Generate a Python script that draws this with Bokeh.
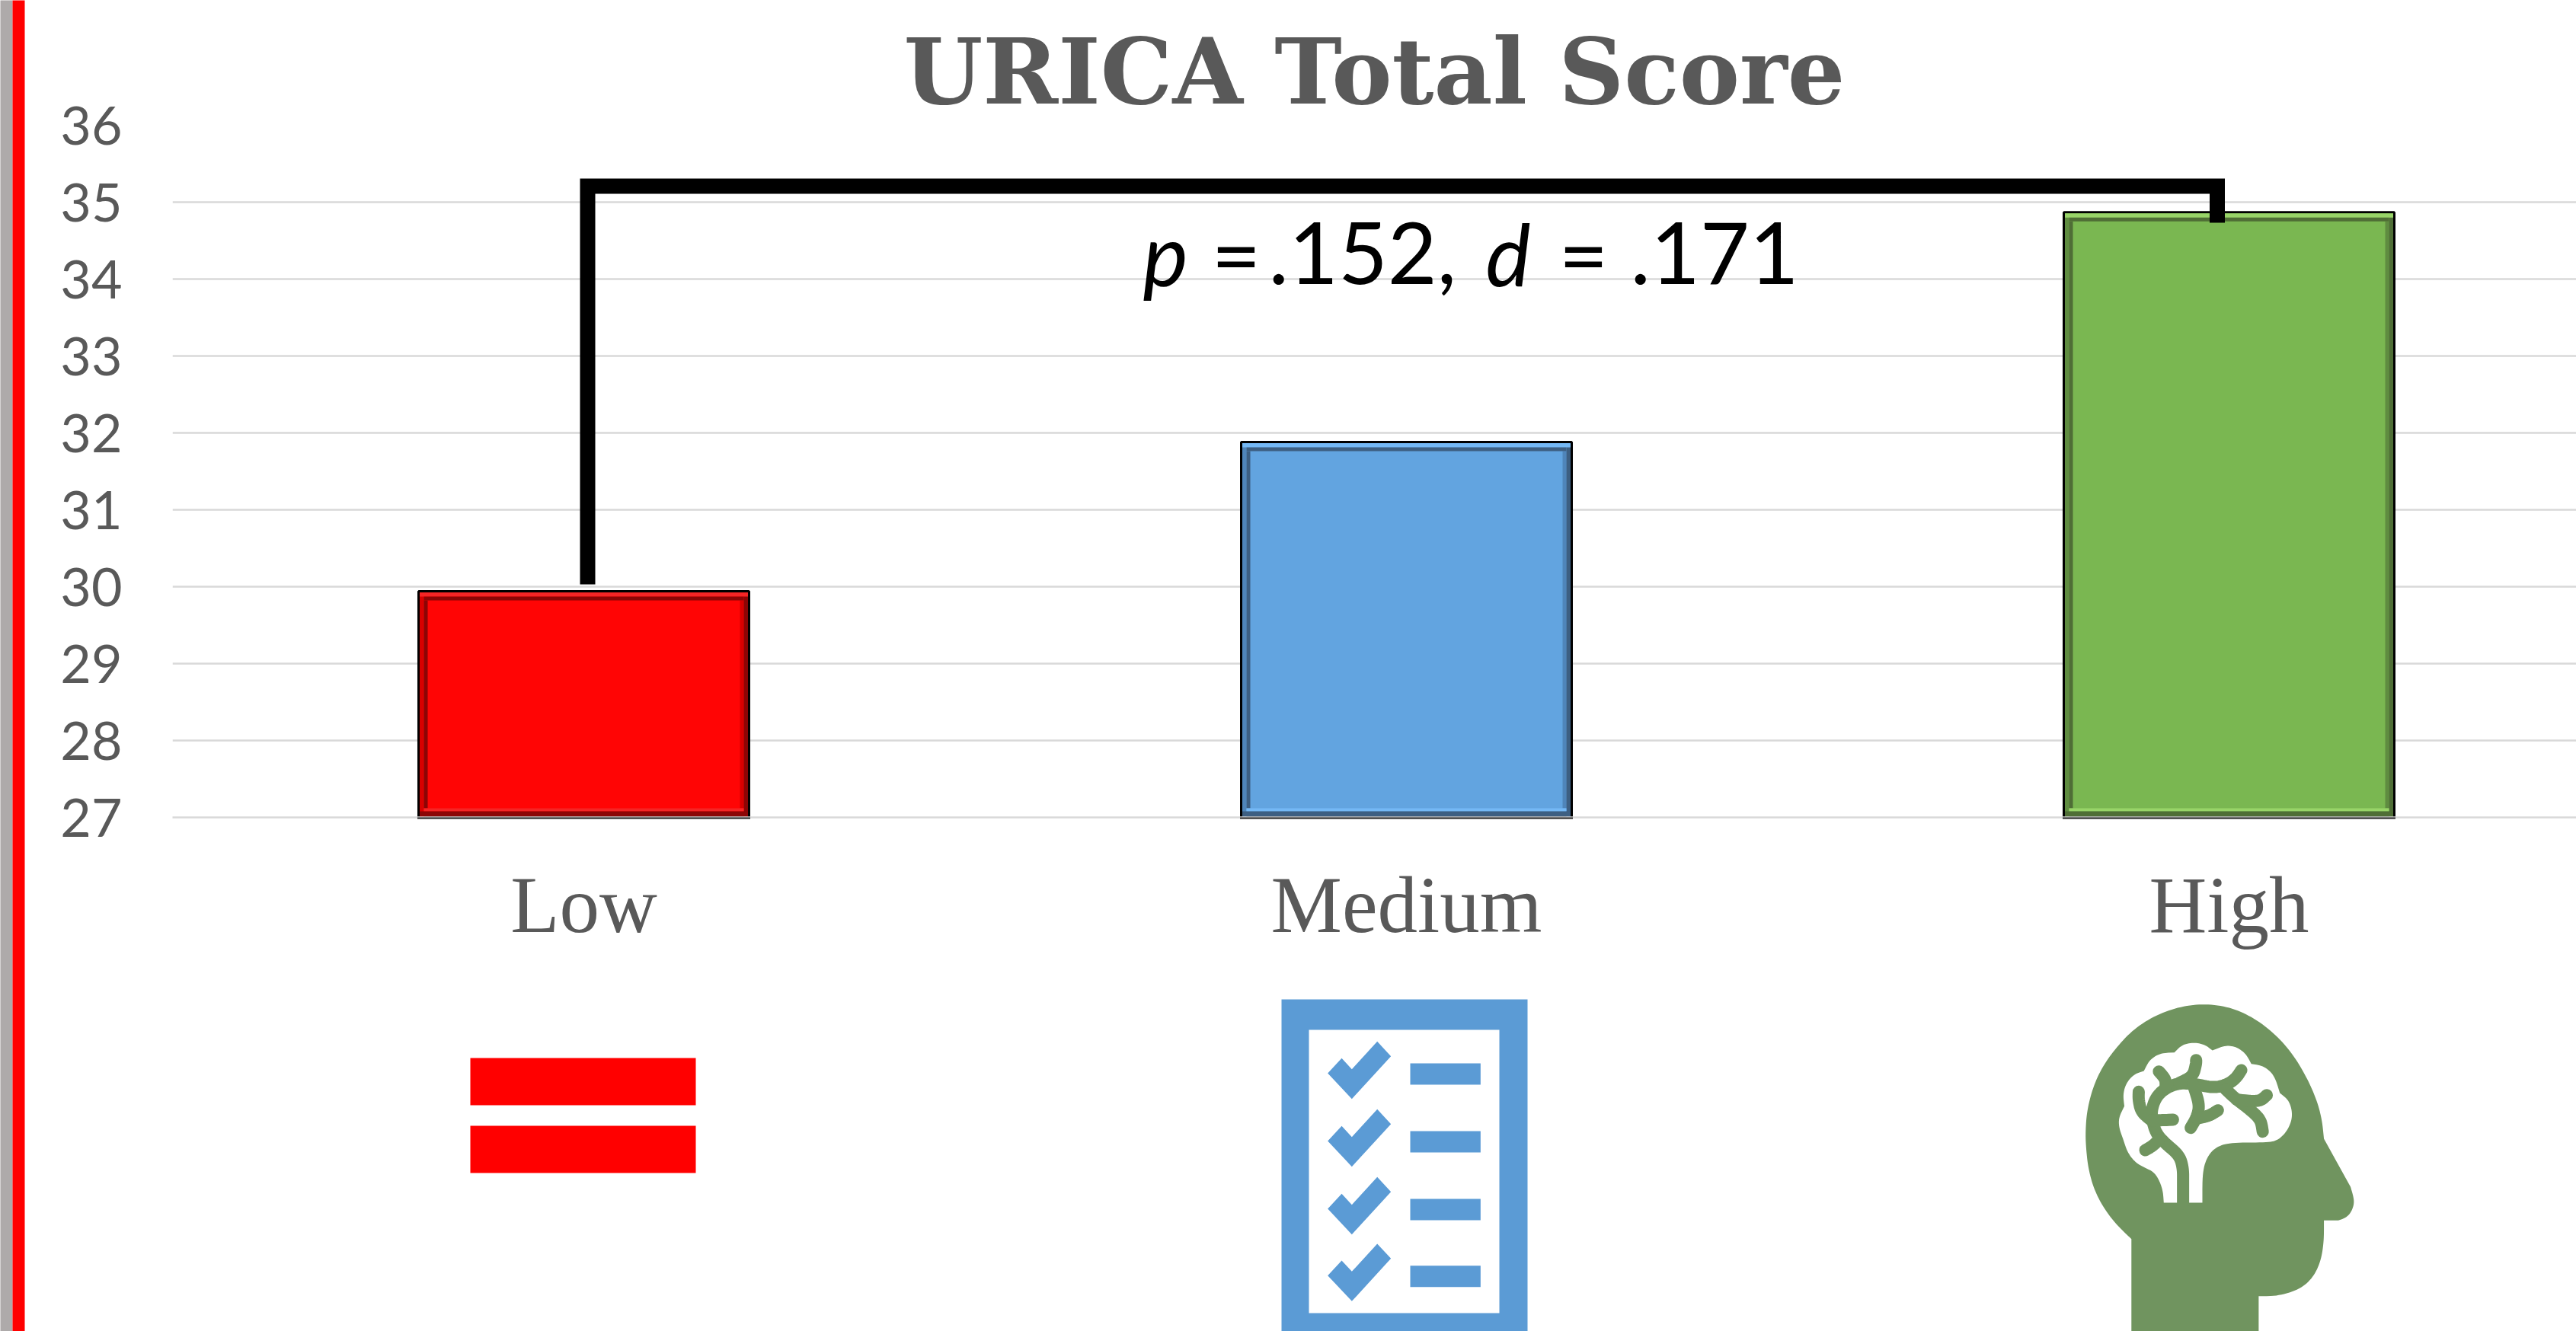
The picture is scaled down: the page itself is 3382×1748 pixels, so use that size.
from bokeh.plotting import figure
from bokeh.models import Range1d, FixedTicker, Title
from bokeh.core.properties import value
from bokeh.embed import file_html
from bokeh.resources import INLINE

# ---- data
categories = ["Low", "Medium", "High"]
scores = [29.94, 31.88, 34.87]
y_ticks = [27, 28, 29, 30, 31, 32, 33, 34, 35, 36]
title_text = "URICA Total Score"

# ---- bar styling: fill, light bevel, dark bevel, mid bevel
bar_fill = ["#FF0505", "#62A4E0", "#7AB751"]
bar_light = ["#F52525", "#74B8F5", "#98D468"]
bar_dark = ["#8C0505", "#3D5F82", "#4F6E36"]
bar_mid = ["#D80000", "#4F85BA", "#5F8C40"]

GREY = "#595959"
GRID = "#D9D9D9"

W, H = 3382, 1748
LEFT, TOP, BOTTOM = 226, 164, 1073      # pixels of the plot frame
PX_PER_CAT = 1080
BAR_W = 434 / 1080

p = figure(width=W, height=H, output_backend="svg", toolbar_location=None,
           x_range=Range1d(0, (W - LEFT) / PX_PER_CAT),
           y_range=Range1d(27, 36),
           min_border_left=LEFT, min_border_right=0,
           min_border_top=TOP, min_border_bottom=H - BOTTOM,
           outline_line_color=None, background_fill_color="white", border_fill_color="white")
# second pair of ranges in pixels, for the decorations
p.extra_x_ranges["px"] = Range1d(LEFT, W)
p.extra_y_ranges["px"] = Range1d(BOTTOM, TOP)
PX = dict(x_range_name="px", y_range_name="px")

# ---- title
p.title = Title(text=title_text, align="center", text_font="DejaVu Serif", text_font_style="bold",
                text_font_size="119px", text_color=GREY, text_line_height=0.9, standoff=2, offset=4)

# ---- axes
p.xgrid.visible = False
p.ygrid.grid_line_color = GRID
p.ygrid.grid_line_width = 2.5
p.ygrid.ticker = FixedTicker(ticks=y_ticks)
ax = p.yaxis[0]
ax.ticker = FixedTicker(ticks=y_ticks)
ax.axis_line_color = None
ax.major_tick_line_color = None
ax.minor_tick_line_color = None
ax.major_label_text_font = "Lato"
ax.major_label_text_font_size = "70px"
ax.major_label_text_color = GREY
ax.major_label_standoff = 60
bx = p.xaxis[0]
bx.ticker = FixedTicker(ticks=[0.5, 1.5, 2.5])
bx.major_label_overrides = {0.5: categories[0], 1.5: categories[1], 2.5: categories[2]}
bx.axis_line_color = GRID
bx.axis_line_width = 2.5
bx.major_tick_line_color = None
bx.minor_tick_line_color = None
bx.major_label_text_font = "Liberation Serif"
bx.major_label_text_font_size = "105px"
bx.major_label_text_color = GREY
bx.major_label_standoff = 50

# ---- bars
centers = [i + 0.5 for i in range(len(categories))]
p.vbar(x=centers, top=scores, bottom=27, width=BAR_W, fill_color=bar_fill,
       line_color="#000000", line_width=3)

# bevel, in pixels, derived from each bar's value
for c, v, light, dark, mid in zip(centers, scores, bar_light, bar_dark, bar_mid):
    xc = LEFT + c * PX_PER_CAT
    half = BAR_W * PX_PER_CAT / 2
    x0, x1 = xc - half, xc + half
    y0 = BOTTOM - (v - 27) * (BOTTOM - TOP) / 9
    y1 = BOTTOM
    bands = [
        (x0 + 1.5, x0 + 7, y0 + 1.5, y1, mid),
        (x0 + 7, x0 + 12, y0 + 12, y1 - 12, dark),
        (x1 - 12, x1 - 7, y0 + 12, y1 - 12, mid),
        (x1 - 7, x1 - 1.5, y0 + 1.5, y1, dark),
        (x0 + 1.5, x1 - 1.5, y0 + 1.5, y0 + 7, light),
        (x0 + 7, x1 - 7, y0 + 7, y0 + 12, dark),
        (x0 + 7, x1 - 7, y1 - 12, y1 - 8, light),
        (x0 + 1.5, x1 - 1.5, y1 - 8, y1 - 1, dark),
    ]
    for l, r, t, b, col in bands:
        p.quad(left=l, right=r, top=t, bottom=b, fill_color=col, line_color=None, **PX)
    p.quad(left=x0 - 1.5, right=x1 + 1.5, top=y1, bottom=y1 + 2, fill_color="#222222", line_color=None,
           level="overlay", **PX)

# ---- significance bracket
p.line([771, 771, 2910.5, 2910.5], [767, 244, 244, 292], line_color="black", line_width=20,
       line_join="miter", line_cap="butt", level="overlay", **PX)

# ---- annotation
note_pieces = [("p", 1500, "italic"), ("=", 1590, "normal"), (".152,", 1665, "normal"),
               ("d", 1950, "italic"), ("=", 2046, "normal"), (".171", 2140, "normal")]
for txt, xp, style in note_pieces:
    p.text(x=[xp], y=[332], text=[txt], text_font=value("Lato"), text_font_size="112px",
           text_font_style=style, text_color="black", text_baseline="alphabetic",
           text_align="left", level="overlay", **PX)

# ---- side stripes
p.quad(left=[0, 16], right=[16, 32], top=[0, 0], bottom=[H, H],
       fill_color=["#AEAAAA", "#FF0000"], line_color=None, level="overlay", **PX)

# ---- icon: equals sign
p.quad(left=[617, 617], right=[913, 913], top=[1389, 1478], bottom=[1451, 1540],
       fill_color="#FF0000", line_color=None, level="overlay", **PX)

# ---- icon: checklist
BLUE = "#5B9BD5"
p.quad(left=[1682], right=[2005], top=[1312], bottom=[H], fill_color=BLUE, line_color=None,
       level="overlay", **PX)
p.quad(left=[1718], right=[1968], top=[1352], bottom=[1724], fill_color="white", line_color=None,
       level="overlay", **PX)
check_x = [278, 333, 373, 473, 527, 373]
check_y = [357, 298, 341, 232, 290, 458]
for row in [0, 267, 534, 797]:
    p.patch([1650 + a / 3 for a in check_x], [1290 + (b + row) / 3 for b in check_y],
            fill_color=BLUE, line_color=None, level="overlay", **PX)
    p.quad(left=[1650 + 603 / 3], right=[1650 + 880 / 3], top=[1290 + (318 + row) / 3],
           bottom=[1290 + (402 + row) / 3], fill_color=BLUE, line_color=None, level="overlay", **PX)

# ---- icon: head with brain
def hx(a):
    return [2650 + v * 0.357 for v in a]

def hy(a):
    return [1280 + v / 3 for v in a]

def rounded(xs, ys, keep=(), closed=True, rounds=3):
    """Corner cutting of an outline; the points listed in keep stay sharp."""
    pts = [(x, y, (x, y) in keep) for x, y in zip(xs, ys)]
    if not closed:
        pts[0] = (pts[0][0], pts[0][1], True)
        pts[-1] = (pts[-1][0], pts[-1][1], True)
    for _ in range(rounds):
        out = []
        n = len(pts)
        for i in range(n if closed else n - 1):
            a, b = pts[i], pts[(i + 1) % n]
            if a[2]:
                out.append(a)
            else:
                out.append((0.75 * a[0] + 0.25 * b[0], 0.75 * a[1] + 0.25 * b[1], False))
            if not b[2]:
                out.append((0.25 * a[0] + 0.75 * b[0], 0.25 * a[1] + 0.75 * b[1], False))
        if not closed:
            out.append(pts[-1])
        pts = out
    return [q[0] for q in pts], [q[1] for q in pts]

head_x = [414, 414, 360, 310, 275, 255, 247, 245, 250, 270, 305, 355, 420, 500, 590, 680, 770, 850,
          930, 1000, 1055, 1095, 1115, 1122, 1220, 1235, 1225, 1205, 1175, 1122, 1122, 1110, 1080,
          1030, 950, 882, 882]
head_y = [1404, 1040, 985, 915, 840, 760, 680, 620, 540, 450, 365, 290, 215, 160, 125, 113, 125, 160,
          220, 300, 395, 490, 570, 645, 835, 890, 930, 955, 967, 967, 1050, 1130, 1195, 1240, 1265,
          1265, 1404]
head_keep = {(414, 1404), (414, 1040), (1122, 645), (1220, 835), (1175, 967), (1122, 967),
             (882, 1265), (882, 1404)}
HEAD = "#70945F"
sx, sy = rounded(head_x, head_y, head_keep)
p.patch(hx(sx), hy(sy), fill_color=HEAD, line_color=None, level="overlay", **PX)

brain_x = [533, 530, 515, 495, 465, 430, 400, 383, 368, 368, 388, 383, 395, 425, 460, 480, 520, 572,
           600, 645, 685, 712, 760, 800, 835, 855, 900, 940, 960, 995, 1008, 990, 955, 915, 780, 730,
           695, 675, 675]
brain_y = [897, 850, 805, 775, 760, 740, 700, 645, 600, 560, 517, 470, 425, 390, 378, 335, 308, 305,
           275, 265, 275, 297, 277, 283, 310, 350, 358, 395, 465, 495, 555, 610, 650, 660, 660, 675,
           710, 775, 897]
brain_keep = {(533, 897), (675, 897), (388, 517), (460, 378), (572, 305), (712, 297), (855, 350),
              (960, 465), (383, 645), (465, 760)}
sx, sy = rounded(brain_x, brain_y, brain_keep)
p.patch(hx(sx), hy(sy), fill_color="white", line_color=None, level="overlay", **PX)

branches = [
    ([604, 604, 604, 590, 540, 505, 490, 488, 505, 540, 590, 650, 720, 770, 800, 818],
     [900, 820, 760, 710, 665, 625, 570, 530, 480, 445, 425, 430, 445, 430, 405, 375]),
    ([515, 490, 465], [650, 675, 690]),
    ([490, 450, 440, 441], [575, 540, 490, 460]),
    ([490, 530, 567], [572, 572, 570]),
    ([540, 540, 515], [440, 410, 380]),
    ([590, 640, 652, 652], [425, 400, 350, 335]),
    ([640, 665, 655, 632], [430, 510, 560, 602]),
    ([655, 700, 732], [565, 555, 533]),
    ([760, 800, 850, 890, 897], [450, 490, 530, 570, 617]),
    ([800, 850, 890, 912], [490, 497, 495, 473]),
]
for bxs, bys in branches:
    sx, sy = rounded(bxs, bys, closed=False)
    p.line(hx(sx), hy(sy), line_color=HEAD, line_width=16, line_cap="round", line_join="round",
           level="overlay", **PX)

open("out.html", "w").write(file_html(p, INLINE))
